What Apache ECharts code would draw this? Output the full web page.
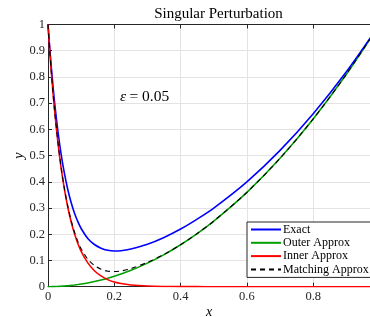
<!DOCTYPE html>
<html>
<head>
<meta charset="utf-8">
<script src="https://cdn.jsdelivr.net/npm/echarts@6/dist/echarts.min.js"></script>
<style>
html,body{margin:0;padding:0;background:#fff;}
#c{width:370px;height:317px;}
</style>
</head>
<body>
<div id="c"></div>
<script>
var xs       = [0, 0.005, 0.01, 0.015, 0.02, 0.03, 0.04, 0.05, 0.06, 0.07, 0.08, 0.09, 0.1, 0.12, 0.14, 0.16, 0.18, 0.2, 0.22, 0.25, 0.3, 0.35, 0.4, 0.45, 0.5, 0.6, 0.7, 0.8, 0.9, 1.0];
var exact    = [1, 0.914, 0.836, 0.766, 0.701, 0.592, 0.502, 0.429, 0.369, 0.320, 0.280, 0.248, 0.222, 0.184, 0.161, 0.147, 0.139, 0.136, 0.137, 0.144, 0.162, 0.188, 0.220, 0.258, 0.300, 0.400, 0.520, 0.660, 0.820, 1.0];
var outer    = [0, 0.00003, 0.0001, 0.0002, 0.0004, 0.0009, 0.0016, 0.0025, 0.0036, 0.0049, 0.0064, 0.0081, 0.01, 0.0144, 0.0196, 0.0256, 0.0324, 0.04, 0.0484, 0.0625, 0.09, 0.1225, 0.16, 0.2025, 0.25, 0.36, 0.49, 0.64, 0.81, 1.0];
var inner    = [1, 0.905, 0.819, 0.741, 0.670, 0.549, 0.449, 0.368, 0.301, 0.247, 0.202, 0.165, 0.135, 0.091, 0.061, 0.041, 0.027, 0.018, 0.012, 0.0067, 0.0025, 0.0009, 0.0003, 0.0001, 0, 0, 0, 0, 0, 0];
var matching = [1, 0.905, 0.819, 0.741, 0.670, 0.550, 0.451, 0.371, 0.305, 0.252, 0.208, 0.173, 0.145, 0.105, 0.081, 0.067, 0.059, 0.058, 0.060, 0.069, 0.093, 0.123, 0.160, 0.203, 0.25, 0.36, 0.49, 0.64, 0.81, 1.0];
var seriesNames = ['Exact', 'Outer Approx', 'Inner Approx', 'Matching Approx'];
var titleText = 'Singular Perturbation';
var annotation = '0.05';
// visible x-range ends where the reference picture is cropped
var xVisibleMax = 0.9713;

function pairs(ys){ return xs.map(function(x,i){ return [x, ys[i]]; }); }

var FONT = '"Liberation Serif", "DejaVu Serif", serif';
var chart = echarts.init(document.getElementById('c'), null, {renderer:'canvas'});
var axisCol = '#262626';
var gridCol = '#e3e3e3';
function fmt(v){ return String(+(+v).toFixed(2)); }

var option = {
  animation:false,
  backgroundColor:'#fff',
  title:{
    text:titleText, left:213.5, top:2, textAlign:'center',
    textStyle:{fontFamily:FONT, fontSize:15, fontWeight:'normal', color:'#000'}
  },
  grid:{left:48, top:24.5, right:0, bottom:30.3, containLabel:false, outerBoundsMode:'none'},
  legend:{
    orient:'vertical', left:247, top:222,
    itemWidth:30, itemHeight:12, itemGap:1.3,
    padding:[1.5,4,2,3],
    backgroundColor:'#fff', borderColor:axisCol, borderWidth:1, borderRadius:0,
    itemStyle:{opacity:0},
    textStyle:{fontFamily:FONT, fontSize:12, color:'#000', padding:[0,0,0,-3]},
    data:seriesNames
  },
  xAxis:[{
    type:'value', min:0, max:xVisibleMax, interval:0.2,
    name:'x', nameLocation:'middle', nameGap:19, nameMoveOverlap:false,
    nameTextStyle:{fontFamily:FONT, fontSize:14, fontStyle:'italic', color:'#000'},
    axisLine:{show:true, lineStyle:{color:axisCol, width:1}},
    axisTick:{show:true, inside:true, length:4, lineStyle:{color:axisCol}},
    axisLabel:{fontFamily:FONT, fontSize:12.5, color:axisCol, margin:4, showMaxLabel:false,
      formatter:fmt},
    splitLine:{show:true, lineStyle:{color:gridCol, width:1}}
  },{
    type:'value', min:0, max:xVisibleMax, interval:0.2, position:'top',
    axisLine:{show:true, lineStyle:{color:axisCol, width:1}},
    axisTick:{show:true, inside:true, length:4, lineStyle:{color:axisCol}},
    axisLabel:{show:false}, splitLine:{show:false}
  }],
  yAxis:[{
    type:'value', min:0, max:1, interval:0.1,
    name:'y', nameLocation:'middle', nameGap:22, nameRotate:90, nameMoveOverlap:false,
    nameTextStyle:{fontFamily:FONT, fontSize:14, fontStyle:'italic', color:'#000'},
    axisLine:{show:true, lineStyle:{color:axisCol, width:1}},
    axisTick:{show:true, inside:true, length:4, lineStyle:{color:axisCol}},
    axisLabel:{fontFamily:FONT, fontSize:12.5, color:axisCol, margin:3,
      formatter:fmt},
    splitLine:{show:true, lineStyle:{color:gridCol, width:1}}
  }],
  graphic:[{
    type:'text', left:120, top:89, z:100,
    style:{
      text:'{e|ε} {n|= ' + annotation + '}',
      rich:{
        e:{fontFamily:FONT, fontSize:15.5, fontStyle:'italic', fill:'#000'},
        n:{fontFamily:FONT, fontSize:15.5, fill:'#000'}
      }
    }
  }],
  series:[
    {name:seriesNames[0], type:'line', xAxisIndex:0, data:pairs(exact), smooth:0.3, symbol:'none', color:'#0000ff', lineStyle:{color:'#0000ff', width:1.6}, z:4},
    {name:seriesNames[1], type:'line', xAxisIndex:0, data:pairs(outer), smooth:0.3, symbol:'none', color:'#00a000', lineStyle:{color:'#00a000', width:1.6}, z:3},
    {name:seriesNames[2], type:'line', xAxisIndex:0, data:pairs(inner), smooth:0.3, symbol:'none', color:'#ff0000', lineStyle:{color:'#ff0000', width:1.6}, z:5},
    {name:seriesNames[3], type:'line', xAxisIndex:0, data:pairs(matching), smooth:0.3, symbol:'none', color:'#000', lineStyle:{color:'#000', width:1.1, type:[5,4]}, z:6}
  ]
};
chart.setOption(option);
</script>
</body>
</html>
